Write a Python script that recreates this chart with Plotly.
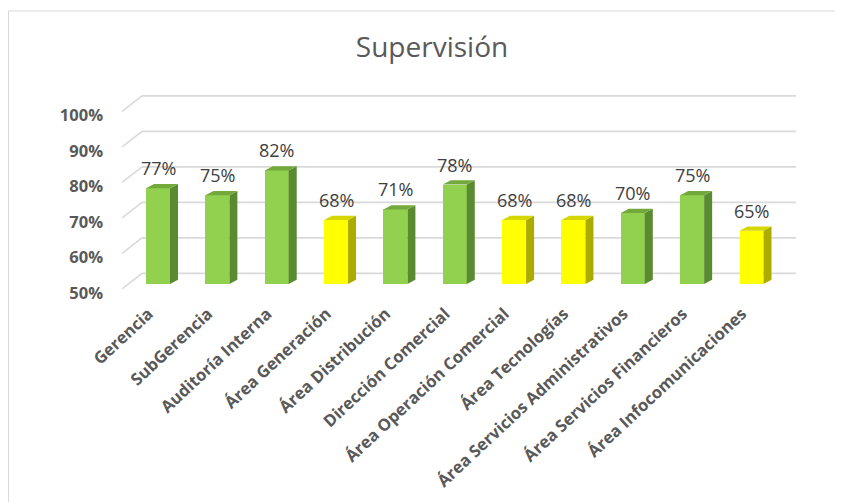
import plotly.graph_objects as go

# ---- data ----
categories = [
    "Gerencia", "SubGerencia", "Auditoría Interna", "Área Generación",
    "Área Distribución", "Dirección Comercial", "Área Operación Comercial",
    "Área Tecnologías", "Área Servicios Administrativos",
    "Área Servicios Financieros", "Área Infocomunicaciones",
]
values = [77, 75, 82, 68, 71, 78, 68, 68, 70, 75, 65]
value_labels = ["77%", "75%", "82%", "68%", "71%", "78%", "68%", "68%", "70%", "75%", "65%"]
y_ticks = [50, 60, 70, 80, 90, 100]
y_tick_labels = ["50%", "60%", "70%", "80%", "90%", "100%"]
threshold = 70  # values below are shown in yellow

# ---- styling / geometry (pseudo-3D) ----
BASE = 50
W = 0.404          # front face width (category units)
DX = 0.135         # depth offset, x (category units)
DY = 1.2           # depth offset, y (value units)
X_RANGE = [-0.607, 10.75]
Y_RANGE = [45.49, 107.46]
WALL_DX = 0.337    # left wall depth in category units
BACK_OFF = 3.0     # back wall offset in value units
FRONT_OFF = -1.4   # front edge offset of wall diagonals
LABEL_OFF = -2.5   # y tick label offset
XLABEL_OFF = -0.16 # x tick label offset

GREEN = dict(front="#92D050", side="#5B8B30", top="#72A83C")
YELLOW = dict(front="#FFFF00", side="#ABAB00", top="#D6D600")
GRID = "#D9D9D9"

idx = list(range(len(categories)))
palette = [GREEN if v >= threshold else YELLOW for v in values]

fig = go.Figure()

# back wall grid lines + left wall diagonals (behind the bars)
for t in y_ticks:
    fig.add_shape(type="line", xref="x", yref="y", layer="below",
                  x0=X_RANGE[0], y0=t + FRONT_OFF, x1=X_RANGE[0] + WALL_DX, y1=t + BACK_OFF,
                  line=dict(color=GRID, width=1.6))
    fig.add_shape(type="line", xref="x", yref="y", layer="below",
                  x0=X_RANGE[0] + WALL_DX, y0=t + BACK_OFF, x1=X_RANGE[1], y1=t + BACK_OFF,
                  line=dict(color=GRID, width=1.6))

# front faces
fig.add_trace(go.Bar(x=idx, y=[v - BASE for v in values], base=BASE, width=W,
                     marker=dict(color=[p["front"] for p in palette], line=dict(width=0)),
                     hoverinfo="skip", showlegend=False))

# side and top faces
for pal in (GREEN, YELLOW):
    sx, sy, tx, ty = [], [], [], []
    for i, v, p in zip(idx, values, palette):
        if p is not pal:
            continue
        r = i + W / 2
        l = i - W / 2
        sx += [r, r + DX, r + DX, r, r, None]
        sy += [BASE, BASE + DY, v + DY, v, BASE, None]
        tx += [l, r, r + DX, l + DX, l, None]
        ty += [v, v, v + DY, v + DY, v, None]
    fig.add_trace(go.Scatter(x=sx, y=sy, mode="lines", fill="toself",
                             fillcolor=pal["side"], line=dict(width=0, color=pal["side"]),
                             hoverinfo="skip", showlegend=False))
    fig.add_trace(go.Scatter(x=tx, y=ty, mode="lines", fill="toself",
                             fillcolor=pal["top"], line=dict(width=0, color=pal["top"]),
                             hoverinfo="skip", showlegend=False))

# data labels
for i, v, lab in zip(idx, values, value_labels):
    fig.add_annotation(x=i, y=v, text=lab, showarrow=False, yanchor="middle",
                       yshift=20, font=dict(family="Open Sans", size=18, color="#404040"))

# border around chart area
fig.add_shape(type="rect", xref="paper", yref="paper",
              x0=-0.1684, x1=1.0593, y0=-0.96, y1=1.3136,
              line=dict(color="#D9D9D9", width=1), layer="below")

fig.update_layout(
    width=843, height=502, autosize=False,
    margin=dict(l=114, r=55, t=72, b=210),
    paper_bgcolor="white", plot_bgcolor="white",
    title=dict(text="Supervisión", x=424 / 843, xanchor="center", xref="container",
               y=1 - 39 / 502, yanchor="middle", yref="container",
               font=dict(family="Open Sans", size=28, color="#595959")),
    xaxis=dict(range=X_RANGE, tickmode="array",
               tickvals=[i + XLABEL_OFF for i in idx], ticktext=categories,
               tickangle=-43, showgrid=False, zeroline=False, showline=False, ticks="",
               ticklabelstandoff=0,
               tickfont=dict(family="Open Sans", size=16.6, color="#595959", weight="bold")),
    yaxis=dict(range=Y_RANGE, tickmode="array",
               tickvals=[t + LABEL_OFF for t in y_ticks], ticktext=y_tick_labels,
               showgrid=False, zeroline=False, showline=False, ticks="",
               ticklabelstandoff=18,
               tickfont=dict(family="Open Sans", size=16.5, color="#595959", weight="bold")),
    bargap=0,
)

fig.write_html("out.html")
